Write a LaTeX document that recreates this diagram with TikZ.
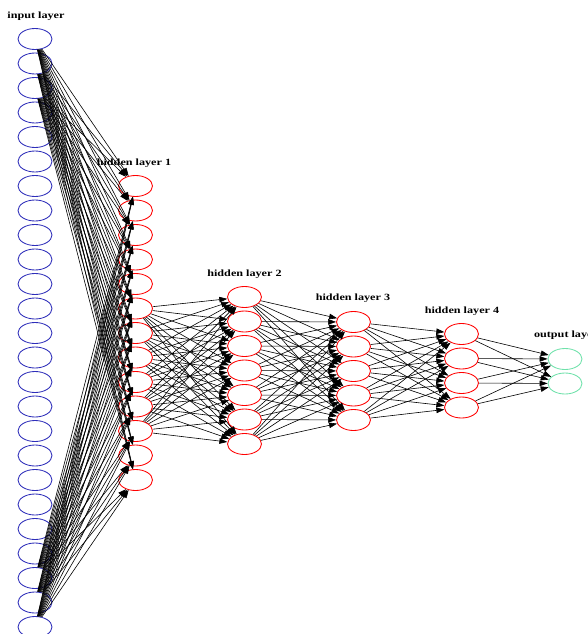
\documentclass[tikz,border=0pt]{standalone}
\usepackage{fontspec}
\setmainfont{Liberation Serif}
\usepackage{xcolor}
\usetikzlibrary{arrows.meta, shapes.geometric}

\definecolor{inblue}{RGB}{45,45,185}
\definecolor{outgreen}{RGB}{110,225,170}

\begin{document}
\begin{tikzpicture}[
        x=1pt, y=-1pt,
        >={Triangle[length=8pt, width=5.5pt]},
        neuron/.style={draw, ellipse, line width=0.85pt, minimum width=34pt, minimum height=21pt, inner sep=0pt},
        inunit/.style={neuron, color=inblue},
        hidunit/.style={neuron, color=red},
        outunit/.style={neuron, color=outgreen},
        layerlabel/.style={font=\fontsize{9.5}{10}\selectfont\bfseries, anchor=base, xscale=1.28, transform shape},
        link/.style={->, line width=0.6pt, black}
    ]

    \clip (0,0) rectangle (588,634);

    % layers
    \foreach \n in {1,...,25}
        \node[inunit] (in_\n) at (35,{39+(\n-1)*24.5}) {};
    \foreach \n in {1,...,13}
        \node[hidunit] (h1_\n) at (135.5,{186+(\n-1)*24.5}) {};
    \foreach \n in {1,...,7}
        \node[hidunit] (h2_\n) at (244.5,{297+(\n-1)*24.5}) {};
    \foreach \n in {1,...,5}
        \node[hidunit] (h3_\n) at (353.5,{322+(\n-1)*24.5}) {};
    \foreach \n in {1,...,4}
        \node[hidunit] (h4_\n) at (461.5,{334+(\n-1)*24.5}) {};
    \foreach \n in {1,2}
        \node[outunit] (out_\n) at (565,{359+(\n-1)*24.5}) {};

    % labels
    \node[layerlabel] (lbl_in) at (36,18.5) {input layer};
    \node[layerlabel] (lbl_h1) at (134,165.5) {hidden layer 1};
    \node[layerlabel] (lbl_h2) at (244.5,276.5) {hidden layer 2};
    \node[layerlabel] (lbl_h3) at (353,300.5) {hidden layer 3};
    \node[layerlabel] (lbl_h4) at (462,313) {hidden layer 4};
    \node[layerlabel] (lbl_out) at (566,337.5) {output layer};

    % connections
    \foreach \i in {1,2,3,23,24,25}
        \foreach \j in {1,...,13}
            \draw[link] (in_\i) -- (h1_\j);
    \foreach \i in {6,...,11}
        \foreach \j in {1,...,7}
            \draw[link] (h1_\i) -- (h2_\j);
    \foreach \i in {1,...,7}
        \foreach \j in {1,...,5}
            \draw[link] (h2_\i) -- (h3_\j);
    \foreach \i in {1,...,5}
        \foreach \j in {1,...,4}
            \draw[link] (h3_\i) -- (h4_\j);
    \foreach \i in {1,...,4}
        \foreach \j in {1,2}
            \draw[link] (h4_\i) -- (out_\j);

\end{tikzpicture}
\end{document}
